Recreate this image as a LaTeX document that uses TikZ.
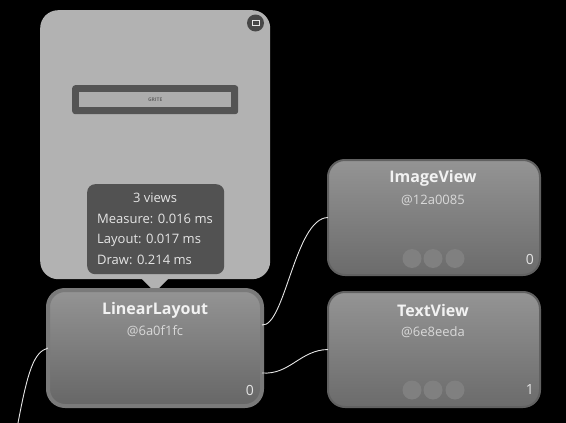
\documentclass[tikz,border=0pt]{standalone}
\usepackage{fontspec}
\setmainfont{Open Sans}
\begin{document}
\begin{tikzpicture}[x=1pt,y=-1pt,
  view/.style={draw=#1,line width=2pt,rounded corners=17pt,top color=black!42,bottom color=black!58,anchor=north west,inner sep=0pt,outer sep=0pt},
  title/.style={text=white!95!black,font=\bfseries\fontsize{16}{18}\selectfont,inner sep=0pt},
  addr/.style={text=white!85!black,font=\fontsize{13}{15}\selectfont,inner sep=0pt},
  cnt/.style={text=white!90!black,font=\fontsize{14}{16}\selectfont,inner sep=0pt},
  stat/.style={text=white!90!black,font=\fontsize{13}{15}\selectfont,inner sep=0pt,text height=10pt,text depth=3pt},
  dot/.style={circle,fill=black!50,minimum size=19pt,inner sep=0pt},
  wire/.style={draw=white!90!black,line width=0.9pt}]
\useasboundingbox (0,0) rectangle (566,423);
\fill[black] (0,0) rectangle (566,423);
% preview bubble
\node[rounded corners=18pt,fill=black!30,anchor=north west,minimum width=230pt,minimum height=269pt,inner sep=0pt] (bubble) at (40,10) {};
\coordinate (tip) at (155,292);
\fill[black!30] (141,278) -- (tip) -- (169,278) -- cycle;
% app bar inside preview
\node[rounded corners=3pt,fill=black!67,anchor=north west,minimum width=166pt,minimum height=29pt,inner sep=0pt] (bar) at (72,85) {};
\node[fill=black!32,minimum width=152pt,minimum height=15pt,inner sep=0pt] (barin) at (bar.center) {};
\node[text=black!60,font=\bfseries\fontsize{5}{6}\selectfont,inner sep=0pt] (bartxt) at (bar.center) {GRITE};
% expand icon
\node[circle,fill=black!72,minimum size=17pt,inner sep=0pt] (icon) at (255.5,23) {};
\node[draw=white!90!black,fill=black!72,line width=1pt,minimum width=7pt,minimum height=5pt,inner sep=0pt] (iconin) at (icon.center) {};
% stats tooltip
\node[rounded corners=8pt,fill=black!68,anchor=north west,minimum width=137pt,minimum height=90pt,inner sep=0pt] (tooltip) at (87,184) {};
\node[stat] (views) at (155,199) {3 views};
\node[stat,anchor=west] (measure) at (97,219.5) {Measure: 0.016 ms};
\node[stat,anchor=west] (layout) at (97,240) {Layout: 0.017 ms};
\node[stat,anchor=west] (draw) at (97,260.5) {Draw: 0.214 ms};
% LinearLayout
\node[view=black!52,line width=4pt,minimum width=214pt,minimum height=116pt,top color=black!42,bottom color=black!60] (linear) at (48,290) {};
\node[title] (ltitle) at (155,310) {LinearLayout};
\node[addr] (laddr) at (155,331.5) {@6a0f1fc};
\node[cnt] (lcnt) at (250,390.5) {0};
% ImageView
\node[view=black!62,minimum width=212pt,minimum height=115pt] (image) at (328,160) {};
\node[title] (ititle) at (433,178) {ImageView};
\node[addr] (iaddr) at (433,200) {@12a0085};
\node[cnt] (icnt) at (530,259) {0};
\node[dot] (id1) at (412,258.5) {};
\node[dot] (id2) at (433,258.5) {};
\node[dot] (id3) at (455,258.5) {};
% TextView
\node[view=black!62,minimum width=212pt,minimum height=115pt] (text) at (328,292) {};
\node[title] (ttitle) at (433,310) {TextView};
\node[addr] (taddr) at (433,332) {@6e8eeda};
\node[cnt] (tcnt) at (530,390) {1};
\node[dot] (td1) at (412,390) {};
\node[dot] (td2) at (433,390) {};
\node[dot] (td3) at (455,390) {};
% connectors
\coordinate (loutA) at ([yshift=23pt]linear.east);
\coordinate (loutB) at ([yshift=-25pt]linear.east);
\coordinate (free) at (18,423);
\draw[wire] (linear.west) .. controls (34,352) and (28,370) .. (free);
\draw[wire] (loutA) .. controls (285,327) and (295,218) .. (image.west);
\draw[wire] (loutB) .. controls (290,375) and (300,350) .. (text.west);
\end{tikzpicture}
\end{document}
